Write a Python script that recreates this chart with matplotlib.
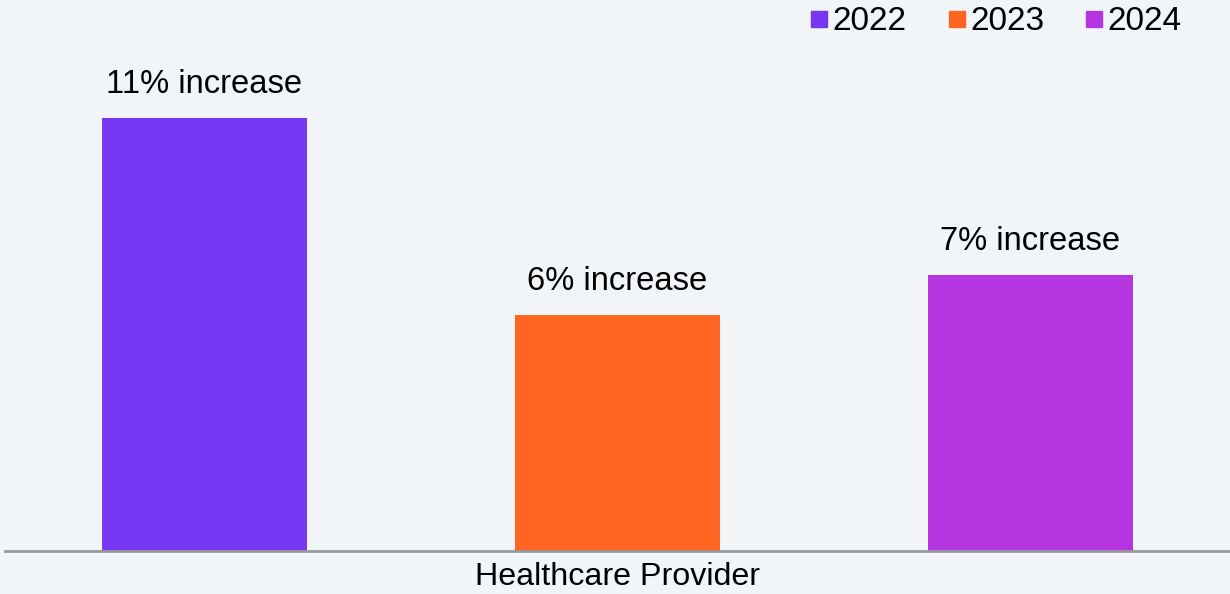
import matplotlib.pyplot as plt
from matplotlib.lines import Line2D

years = ['2022', '2023', '2024']
increase = [11, 6, 7]
colors = ['#7638F2', '#FF6520', '#B535E0']
category = 'Healthcare Provider'

plt.rcParams['font.family'] = ['Liberation Sans', 'DejaVu Sans']

fig = plt.figure(figsize=(12.3, 5.94), dpi=100)
fig.patch.set_facecolor('#F2F5F8')
ax = fig.add_axes([0.004, 0.0724, 0.996, 0.9276])
ax.set_facecolor('#F2F5F8')

pos = list(range(len(years)))
bars = ax.bar(pos, increase, width=0.497, color=colors)

# labels above bars
for b, v in zip(bars, increase):
    ax.annotate(f'{v}% increase', (b.get_x() + b.get_width() / 2, v),
                xytext=(0, 13), textcoords='offset points',
                ha='center', va='bottom', fontsize=23.6)

ax.set_xlim(-0.483, 2.483)
ax.set_ylim(0, 14)
ax.set_yticks([])
ax.set_xticks([1])
ax.set_xticklabels([category], fontsize=23.2)
ax.tick_params(axis='x', length=0, pad=8)
for s in ['top', 'right', 'left']:
    ax.spines[s].set_visible(False)
ax.spines['bottom'].set_color('#999999')
ax.spines['bottom'].set_linewidth(2)

handles = [Line2D([], [], marker='s', linestyle='', markersize=11,
                  markerfacecolor=c, markeredgecolor=c) for c in colors]
fig.legend(handles, years, loc='upper right', ncol=3, frameon=False,
           fontsize=24, handletextpad=0.05, columnspacing=1.15,
           bbox_to_anchor=(0.985, 1.04), handlelength=0.7)

fig.savefig('out.png', dpi=100, facecolor=fig.get_facecolor())
